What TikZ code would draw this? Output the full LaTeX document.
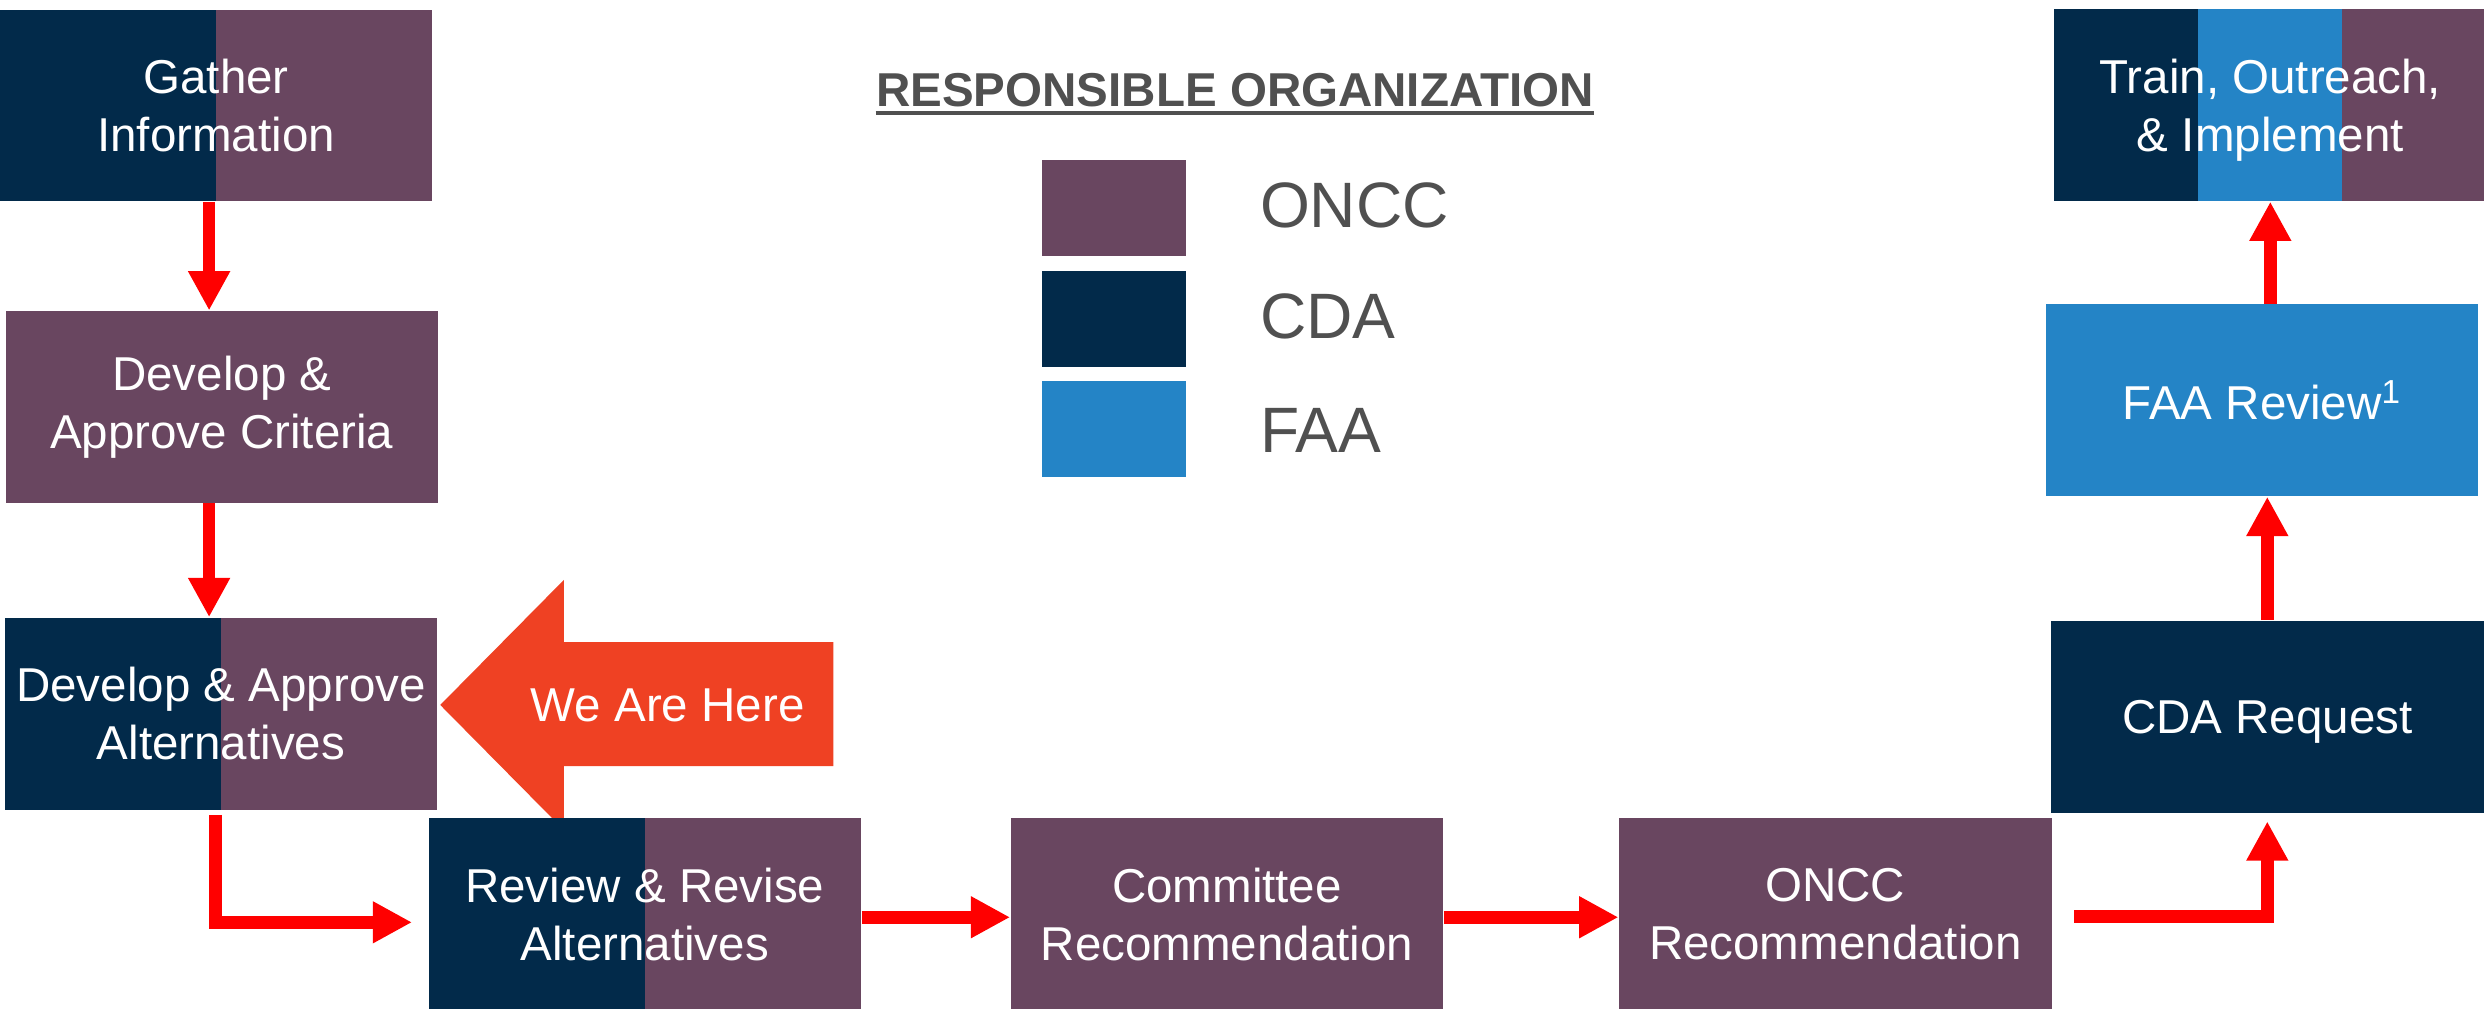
\documentclass[tikz,border=0pt]{standalone}
\usepackage{fontspec}
\setmainfont{Liberation Sans}
\usetikzlibrary{arrows.meta,calc}

\definecolor{onccpurple}{RGB}{105,70,96}
\definecolor{cdanavy}{RGB}{2,42,74}
\definecolor{faablue}{RGB}{36,132,198}
\definecolor{flowred}{RGB}{255,0,0}
\definecolor{hereorange}{RGB}{239,65,35}
\definecolor{leggray}{RGB}{80,80,80}

\tikzset{
  stepbox/.style={rectangle, fill=onccpurple, minimum width=136.5pt, minimum height=60.5pt,
    inner sep=0pt, text=white, align=center, font=\fontsize{15}{18.3}\selectfont},
  cdahalf/.style={path picture={
    \fill[cdanavy] (path picture bounding box.north west) rectangle (path picture bounding box.south);}},
  threeway/.style={path picture={
    \fill[cdanavy] (path picture bounding box.north west) rectangle
      ($(path picture bounding box.south west)!0.3333!(path picture bounding box.south east)$);
    \fill[faablue] ($(path picture bounding box.north west)!0.3333!(path picture bounding box.north east)$) rectangle
      ($(path picture bounding box.south west)!0.6667!(path picture bounding box.south east)$);}},
  flow/.style={draw=flowred, line width=4pt, -{Triangle[width=12.4pt,length=12.4pt]}},
  swatch/.style={rectangle, minimum width=45.4pt, minimum height=30.3pt, inner sep=0pt},
  leglabel/.style={anchor=base west, inner sep=0pt, text=leggray, font=\fontsize{20.25}{24}\selectfont}
}

\begin{document}
\begin{tikzpicture}[x=0.5pt,y=-0.5pt]
    \useasboundingbox (0,0) rectangle (1568,636.4);

    \node[stepbox, cdahalf] (gather) at (136.4,66.5) {Gather\\Information};
    \node[stepbox] (criteria) at (140,256.9) {Develop \&\\Approve Criteria};
    \node[stepbox, cdahalf] (alternatives) at (139.5,450.5) {Develop \& Approve\\Alternatives};

    \fill[hereorange] (277.9,445) -- (356,366) -- (356,405.3) -- (526,405.3) -- (526,483.6)
        -- (356,483.6) -- (356,524) -- cycle;
    \node[text=white, inner sep=0pt, font=\fontsize{15}{18}\selectfont] (here) at (421.5,445) {We Are Here};

    \node[stepbox, cdahalf] (review) at (407,577) {Review \& Revise\\Alternatives};
    \node[stepbox] (committee) at (774.5,577) {Committee\\Recommendation};
    \node[stepbox] (onccrec) at (1158.5,577) {ONCC\\Recommendation};
    \node[stepbox, fill=cdanavy, text depth=0pt] (cdareq) at (1431.2,452.4) {CDA Request};
    \node[stepbox, fill=faablue] (faarev) at (1428,252.7) {FAA Review\textsuperscript{1}};
    \node[stepbox, threeway, text depth=0pt] (train) at (1433.1,66.4) {Train, Outreach,\\\& Implement};

    \node[anchor=base, inner sep=0pt, text=leggray, font=\bfseries\fontsize{15}{18}\selectfont]
        (legtitle) at (779.5,67) {RESPONSIBLE ORGANIZATION};
    \draw[leggray, line width=1.25pt] ([yshift=-2.3pt]legtitle.base west) -- ([yshift=-2.3pt]legtitle.base east);

    \node[swatch, fill=onccpurple] (swoncc) at (703.4,131.3) {};
    \node[swatch, fill=cdanavy] (swcda) at (703.4,201.4) {};
    \node[swatch, fill=faablue] (swfaa) at (703.4,270.8) {};
    \node[leglabel] (lboncc) at (795,143.7) {ONCC};
    \node[leglabel] (lbcda) at (795,213.7) {CDA};
    \node[leglabel] (lbfaa) at (795,285.5) {FAA};

    \coordinate (leftcol) at (132,0);
    \draw[flow] (gather.south -| leftcol) -- (criteria.north -| leftcol);
    \draw[flow] (criteria.south -| leftcol) -- (alternatives.north -| leftcol);
    \draw[flow] ([xshift=-1.65pt,yshift=-1.5pt]alternatives.south) |- ([xshift=-5pt,yshift=-2.6pt]review.west);
    \draw[flow] ([yshift=-1pt]review.east) -- ([yshift=-1pt]committee.west);
    \draw[flow] ([yshift=-1pt]committee.east) -- ([yshift=-1pt]onccrec.west);
    \draw[flow] ([xshift=7pt,yshift=-0.8pt]onccrec.east) -| ([yshift=-2.6pt]cdareq.south);
    \draw[flow] (cdareq.north) -- (cdareq.north |- faarev.south);
    \draw[flow] (faarev.north -| train.south) -- (train.south);
\end{tikzpicture}
\end{document}
